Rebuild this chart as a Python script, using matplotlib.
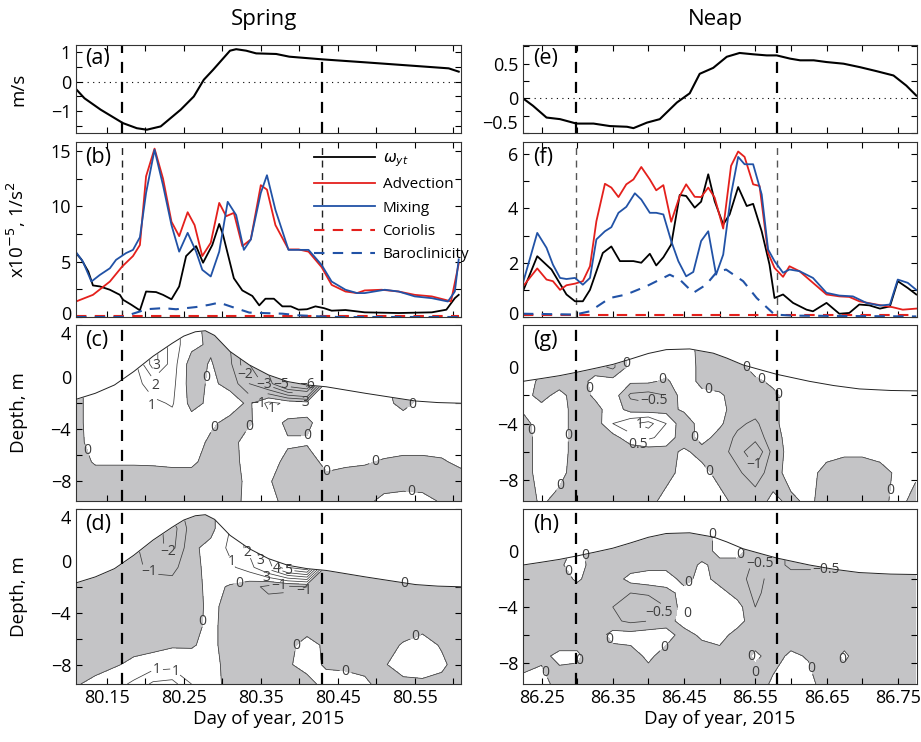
import numpy as np
import matplotlib
matplotlib.use('Agg')
import matplotlib.pyplot as plt
import matplotlib.transforms as mtrans
from matplotlib.ticker import MultipleLocator, FixedLocator

plt.rcParams['font.family'] = ['Open Sans', 'DejaVu Sans']
plt.rcParams['axes.unicode_minus'] = True
plt.rcParams['contour.negative_linestyle'] = 'solid'

RED = '#e4201c'
BLUE = '#2152a6'
GRAY = '#c4c4c6'

# ---------------- spring (left column) ----------------
sp_xlim = (80.11, 80.61)
sp_dash = [80.170, 80.429]

# (a) depth-averaged velocity
sp_vel_t = [80.111, 80.121, 80.142, 80.171, 80.189, 80.202, 80.220, 80.246, 80.263, 80.276, 80.288,
            80.310, 80.318, 80.331, 80.344, 80.370, 80.387, 80.430, 80.486, 80.551, 80.594, 80.607]
sp_vel = [-0.28, -0.56, -0.94, -1.39, -1.56, -1.61, -1.50, -0.94, -0.50, 0.06, 0.39,
          1.03, 1.08, 1.03, 0.94, 0.92, 0.83, 0.74, 0.64, 0.52, 0.44, 0.33]

# (b) vorticity balance terms
sp_wyt_t = [80.110, 80.117, 80.126, 80.132, 80.141, 80.154, 80.167, 80.171, 80.182, 80.193, 80.201,
            80.214, 80.223, 80.234, 80.244, 80.253, 80.266, 80.275, 80.287, 80.296, 80.301, 80.315,
            80.326, 80.339, 80.348, 80.356, 80.367, 80.378, 80.389, 80.399, 80.410, 80.421, 80.432,
            80.442, 80.460, 80.485, 80.529, 80.572, 80.591, 80.602, 80.607]
sp_wyt = [5.77, 5.2, 4.1, 2.85, 2.76, 2.46, 2.0, 1.56, 1.1, 0.6, 2.3,
          2.25, 2.0, 1.6, 2.76, 5.5, 6.4, 4.9, 6.5, 8.4, 7.4, 3.5,
          2.4, 1.9, 1.05, 1.65, 1.65, 0.96, 0.96, 0.66, 0.7, 0.96, 0.8,
          0.57, 0.63, 0.42, 0.36, 0.42, 0.66, 1.7, 2.0]
sp_adv_t = [80.110, 80.132, 80.154, 80.170, 80.184, 80.193, 80.201, 80.212, 80.223, 80.234, 80.244,
            80.255, 80.264, 80.274, 80.285, 80.296, 80.305, 80.315, 80.326, 80.337, 80.350, 80.358,
            80.369, 80.386, 80.399, 80.412, 80.429, 80.442, 80.460, 80.475, 80.485, 80.507, 80.529,
            80.550, 80.572, 80.589, 80.597, 80.607]
sp_adv = [1.4, 2.0, 3.2, 4.56, 5.5, 6.5, 12.7, 15.2, 12.5, 8.6, 7.3,
          9.46, 8.3, 5.5, 6.7, 10.3, 9.1, 9.4, 6.4, 7.0, 11.9, 11.5,
          8.3, 6.1, 6.1, 5.9, 4.5, 2.9, 2.3, 2.16, 2.4, 2.46, 2.3,
          2.0, 1.86, 1.56, 1.4, 4.8]
sp_mix_t = [80.110, 80.119, 80.130, 80.141, 80.154, 80.162, 80.175, 80.184, 80.193, 80.201, 80.212,
            80.223, 80.234, 80.244, 80.255, 80.266, 80.274, 80.285, 80.296, 80.307, 80.318, 80.328,
            80.337, 80.350, 80.358, 80.369, 80.386, 80.412, 80.429, 80.442, 80.460, 80.475, 80.485,
            80.511, 80.529, 80.550, 80.572, 80.593, 80.602, 80.607]
sp_mix = [5.86, 5.0, 3.2, 3.8, 4.4, 5.16, 5.77, 6.06, 7.2, 11.2, 15.1,
          11.9, 8.3, 5.9, 7.6, 5.9, 4.26, 3.66, 5.9, 10.4, 9.2, 6.06,
          7.0, 11.2, 12.8, 9.67, 6.06, 6.06, 4.7, 3.2, 2.46, 2.16, 2.16,
          2.46, 2.3, 1.86, 1.7, 1.4, 2.3, 5.2]
sp_cor_t = [80.110, 80.607]
sp_cor = [0.06, 0.06]
sp_bar_t = [80.110, 80.171, 80.184, 80.193, 80.201, 80.223, 80.240, 80.266, 80.283, 80.296,
            80.313, 80.335, 80.356, 80.378, 80.399, 80.429, 80.450, 80.607]
sp_bar = [0.0, 0.0, 0.3, 0.5, 0.7, 0.8, 0.7, 0.9, 1.1, 1.3,
          0.9, 0.4, 0.35, 0.3, 0.15, 0.05, 0.0, 0.0]

# free surface
sp_surf_t = [80.110, 80.135, 80.160, 80.185, 80.210, 80.235, 80.250, 80.265, 80.278, 80.290, 80.310,
             80.335, 80.360, 80.385, 80.410, 80.435, 80.486, 80.520, 80.551, 80.580, 80.610]
sp_surf = [-1.70, -1.24, -0.60, 0.43, 1.60, 2.60, 3.15, 3.48, 3.56, 3.20, 1.97,
           0.94, 0.17, -0.34, -0.60, -0.74, -1.24, -1.55, -1.83, -1.95, -2.00]

# (c),(d) depth-time sections: one list per time column, values from top to bottom
sp_grid_t = [80.11 + 0.025 * i for i in range(21)]
sp_grid_z = [4, 2.5, 1, -0.5, -2, -3.5, -5, -6.5, -8, -9.5]
sp_adv_cols = [
    [-0.3, -0.3, -0.3, -0.3, -0.3, -0.3, -0.3, -0.4, -0.5, -0.4],
    [0.5, 0.5, 0.5, 0.5, 0.5, 0.5, 0.4, 0.1, -0.5, -0.5],
    [0.5, 0.5, 0.5, 0.5, 0.5, 0.5, 0.4, 0.1, -0.5, -0.4],
    [0.6, 0.6, 0.6, 0.6, 0.5, 0.5, 0.4, 0.1, -0.5, -0.3],
    [3.5, 3.5, 3.5, 1.5, 0.8, 0.5, 0.4, 0.1, -0.4, -0.2],
    [1.5, 1.5, 1.5, 1.3, 1.1, 0.6, 0.5, 0.2, -0.5, -0.2],
    [0.3, 0.3, -0.5, -0.5, -0.3, 0.4, 0.5, 0.2, -0.5, -0.3],
    [-0.3, -0.2, 0.1, 0.2, 0.2, 0.2, -0.2, -0.4, -0.5, -0.3],
    [-1.0, -1.0, -0.8, -0.3, 0.5, -0.3, -0.4, -0.4, -0.5, -0.4],
    [-3.0, -3.0, -3.0, -2.0, -0.2, -0.1, 0.5, 0.4, 0.3, 0.3],
    [-4.5, -4.5, -4.5, -3.5, 1.3, 0.5, 0.4, 0.3, 0.1, 0.3],
    [-7.0, -7.0, -7.0, -6.0, 0.8, -0.2, 0.1, -0.2, -0.5, -0.3],
    [-7.0, -7.0, -7.0, -7.0, 0.5, -0.2, 0.1, -0.5, -0.5, -0.4],
    [0.5, 0.5, 0.5, 0.5, 0.5, 0.5, 0.5, 0.3, -0.3, -0.4],
    [0.5, 0.5, 0.5, 0.5, 0.5, 0.5, 0.5, 0.2, -0.5, -0.5],
    [0.5, 0.5, 0.5, 0.5, 0.5, 0.5, 0.5, 0.1, -0.5, -0.3],
    [0.5, 0.5, 0.5, 0.5, 0.3, 0.5, 0.5, -0.1, -0.5, 0.3],
    [0.5, 0.5, 0.5, -1.5, -0.3, 0.5, 0.4, -0.2, -0.4, 0.4],
    [0.5, 0.5, 0.5, 0.5, 0.3, 0.5, 0.4, -0.2, -0.4, 0.3],
    [0.5, 0.5, 0.5, 0.5, 0.5, 0.5, 0.4, -0.1, -0.4, -0.1],
    [0.5, 0.5, 0.5, 0.5, 0.5, 0.5, 0.5, 0.2, -0.4, -0.4],
]
sp_mix_cols = [
    [-0.5, -0.5, -0.5, -0.5, -0.5, -0.5, -0.5, -0.5, -0.4, -0.1],
    [-0.5, -0.5, -0.5, -0.5, -0.5, -0.5, -0.5, -0.5, -0.4, 0.3],
    [-0.5, -0.5, -0.5, -0.5, -0.5, -0.5, -0.5, -0.5, -0.1, 0.6],
    [-0.8, -0.8, -0.8, -0.8, -0.5, -0.5, -0.5, -0.3, 0.2, 1.2],
    [-1.5, -1.5, -1.6, -1.2, -0.6, -0.5, -0.5, -0.3, 0.5, 2.2],
    [-1.5, -2.5, -2.3, -1.3, -0.6, -0.5, -0.4, -0.1, 0.6, 2.4],
    [-0.5, -0.5, -0.2, -0.3, -0.4, -0.5, -0.4, -0.1, 0.5, 1.0],
    [-0.3, -0.3, 0.3, 0.3, 0.3, 0.3, 0.3, 0.3, 0.5, 0.5],
    [1.0, 1.0, 1.2, 0.8, -0.1, -0.4, -0.5, -0.5, -0.5, -0.4],
    [2.5, 2.5, 2.3, 1.5, -0.6, -0.5, -0.5, -0.5, -0.5, -0.5],
    [4.5, 4.5, 4.5, 3.5, -1.3, -0.5, -0.5, -0.5, -0.5, -0.5],
    [6.5, 6.5, 6.5, 6.0, -1.2, -0.5, -0.5, -0.3, -0.1, -0.5],
    [7.0, 7.0, 7.0, 7.0, -1.0, -0.5, -0.5, 0.4, 0.3, -0.3],
    [-0.5, -0.5, -0.5, -0.5, -0.5, -0.5, -0.5, -0.2, -0.1, 0.3],
    [-0.5, -0.5, -0.5, -0.5, -0.5, -0.5, -0.5, -0.5, -0.2, 0.4],
    [-0.5, -0.5, -0.5, -0.5, -0.5, -0.5, -0.5, -0.5, -0.3, 0.2],
    [-0.5, -0.5, -0.5, -0.5, -0.5, -0.5, -0.5, -0.4, -0.1, -0.4],
    [-0.5, -0.5, -0.5, 2.0, -0.3, -0.5, -0.5, 0.1, 0.5, -0.3],
    [-0.5, -0.5, -0.5, -0.5, -0.5, -0.5, -0.3, 0.4, 0.5, -0.2],
    [-0.5, -0.5, -0.5, -0.5, -0.5, -0.5, -0.5, -0.1, 0.2, -0.3],
    [-0.5, -0.5, -0.5, -0.5, -0.5, -0.5, -0.5, -0.5, -0.5, -0.5],
]

# where the contour labels sit (time, depth)
sp_adv_labels = [(80.214, 0.94), (80.211, 0.1), (80.214, -1.24), (80.278, -0.03), (80.333, 0.3),
                 (80.356, -0.2), (80.377, -0.5), (80.396, -0.6), (80.346, -1.3), (80.404, -1.3),
                 (80.365, -2.39), (80.552, -2.52), (80.294, -4.06), (80.338, -3.93), (80.41, -4.62),
                 (80.119, -5.72), (80.504, -7.52), (80.415, -8.42), (80.546, -8.8)]
sp_mix_labels = [(80.231, 0.82), (80.206, -0.72), (80.328, 0.4), (80.345, -0.1), (80.358, -0.4),
                 (80.371, -0.6), (80.386, -0.7), (80.304, -0.33), (80.322, -1.75), (80.374, -1.9),
                 (80.546, -2.26), (80.40, -3.92), (80.284, -4.69), (80.395, -6.49), (80.557, -6.74),
                 (80.215, -8.28), (80.236, -8.75), (80.46, -8.54)]

# ---------------- neap (right column) ----------------
np_xlim = (86.224, 86.777)
np_dash = [86.299, 86.580]

np_vel_t = [86.224, 86.238, 86.257, 86.276, 86.299, 86.323, 86.346, 86.370, 86.379, 86.398,
            86.416, 86.440, 86.458, 86.472, 86.491, 86.510, 86.528, 86.547, 86.566, 86.580,
            86.599, 86.613, 86.632, 86.650, 86.674, 86.697, 86.720, 86.744, 86.762, 86.776]
np_vel = [0.0, -0.107, -0.277, -0.30, -0.364, -0.364, -0.40, -0.41, -0.43, -0.35,
          -0.30, -0.06, 0.073, 0.354, 0.44, 0.60, 0.655, 0.636, 0.62, 0.62,
          0.573, 0.549, 0.549, 0.524, 0.50, 0.45, 0.393, 0.33, 0.184, 0.04]

np_wyt_t = [86.224, 86.244, 86.264, 86.285, 86.297, 86.308, 86.318, 86.336, 86.348, 86.360,
            86.379, 86.390, 86.402, 86.411, 86.421, 86.432, 86.444, 86.453, 86.465, 86.474,
            86.484, 86.493, 86.505, 86.514, 86.526, 86.538, 86.547, 86.559, 86.570, 86.577,
            86.589, 86.603, 86.622, 86.631, 86.650, 86.668, 86.682, 86.696, 86.710, 86.725,
            86.739, 86.750, 86.764, 86.776]
np_wyt = [0.95, 2.24, 1.75, 0.83, 0.58, 0.58, 1.0, 2.36, 2.6, 2.06,
          2.06, 2.0, 2.33, 1.9, 2.2, 2.67, 4.5, 4.46, 4.03, 4.25,
          5.26, 4.27, 3.41, 3.78, 4.79, 4.09, 4.17, 3.16, 1.93, 0.70,
          0.83, 0.52, 0.27, 0.21, 0.52, 0.12, 0.15, 0.46, 0.43, 0.31,
          0.39, 1.32, 1.07, 0.83]
np_adv_t = [86.224, 86.244, 86.257, 86.266, 86.276, 86.285, 86.297, 86.308, 86.318, 86.327,
            86.339, 86.348, 86.358, 86.369, 86.379, 86.390, 86.402, 86.411, 86.421, 86.432,
            86.444, 86.453, 86.465, 86.474, 86.484, 86.493, 86.505, 86.516, 86.526, 86.535,
            86.547, 86.556, 86.568, 86.577, 86.589, 86.598, 86.612, 86.631, 86.650, 86.668,
            86.682, 86.696, 86.720, 86.743, 86.757, 86.776]
np_adv = [1.13, 1.79, 1.38, 1.32, 1.0, 1.17, 1.23, 1.32, 1.87, 3.53,
          4.91, 4.77, 4.42, 4.89, 5.07, 5.53, 5.07, 4.67, 4.86, 3.51,
          4.46, 4.89, 4.43, 4.42, 4.77, 4.40, 3.26, 5.57, 6.1, 5.9,
          4.89, 4.83, 2.36, 1.81, 1.48, 1.87, 1.69, 1.26, 0.83, 0.76,
          0.74, 0.58, 0.46, 0.36, 0.27, 0.31]
np_mix_t = [86.224, 86.244, 86.257, 86.266, 86.276, 86.285, 86.297, 86.308, 86.318, 86.327,
            86.339, 86.348, 86.358, 86.369, 86.381, 86.390, 86.402, 86.411, 86.421, 86.432,
            86.442, 86.453, 86.463, 86.474, 86.484, 86.495, 86.505, 86.516, 86.526, 86.535,
            86.547, 86.559, 86.568, 86.577, 86.589, 86.598, 86.612, 86.631, 86.650, 86.668,
            86.687, 86.706, 86.725, 86.739, 86.750, 86.764, 86.776]
np_mix = [1.26, 3.1, 2.55, 1.93, 1.44, 1.4, 1.44, 1.19, 1.44, 2.86,
          3.16, 3.31, 3.84, 4.06, 4.56, 4.33, 3.84, 3.84, 3.78, 2.80,
          2.06, 1.5, 1.66, 2.8, 3.16, 1.56, 2.3, 4.52, 5.9, 5.63,
          5.63, 4.52, 2.49, 2.06, 1.63, 1.75, 1.69, 1.44, 0.89, 0.79,
          0.76, 0.52, 0.42, 0.46, 1.38, 1.26, 1.0]
np_cor_t = [86.224, 86.776]
np_cor = [0.06, 0.06]
np_bar_t = [86.224, 86.252, 86.297, 86.318, 86.346, 86.369, 86.397, 86.430, 86.444,
            86.463, 86.481, 86.495, 86.509, 86.533, 86.552, 86.577, 86.603, 86.776]
np_bar = [0.12, 0.11, 0.09, 0.21, 0.7, 0.83, 1.13, 1.56, 1.38,
          0.89, 1.19, 1.63, 1.75, 1.32, 0.7, 0.09, 0.05, 0.02]

np_surf_t = [86.224, 86.250, 86.275, 86.300, 86.325, 86.350, 86.375, 86.400, 86.425, 86.458,
             86.491, 86.510, 86.533, 86.555, 86.580, 86.626, 86.660, 86.696, 86.740, 86.777]
np_surf = [-1.00, -0.80, -0.60, -0.35, -0.08, 0.20, 0.58, 0.98, 1.25, 1.30,
           1.00, 0.65, 0.16, -0.15, -0.50, -1.00, -1.30, -1.54, -1.65, -1.68]

np_grid_t = [86.225 + 0.025 * i for i in range(23)]
np_grid_z = [3, 1.5, 0, -1, -2, -3, -4, -5, -6, -7.5, -9.5]
np_adv_cols = [
    [0.2, 0.2, 0.2, 0.2, 0.2, 0.1, -0.2, -0.3, -0.3, -0.3, -0.3],
    [0.2, 0.2, 0.1, -0.1, -0.2, 0.2, 0.3, 0.3, 0.3, 0.3, 0.1],
    [-0.2, -0.2, -0.2, -0.3, 0.2, 0.3, 0.3, 0.3, 0.3, 0.2, -0.2],
    [-0.2, -0.2, -0.3, -0.3, -0.3, -0.3, -0.3, -0.3, -0.3, -0.3, -0.3],
    [-0.3, -0.3, -0.3, 0.2, 0.1, -0.2, -0.3, -0.3, -0.3, -0.3, -0.3],
    [-0.6, -0.6, -0.6, 0.2, 0.3, 0.3, 0.5, -0.2, -0.3, -0.3, -0.3],
    [0.2, 0.2, 0.2, 0.1, -0.6, -0.2, 0.9, 0.3, -0.3, -0.3, -0.3],
    [0.2, 0.2, 0.3, 0.1, -0.7, -0.3, 1.2, 0.6, -0.3, -0.3, -0.2],
    [0.3, 0.3, 0.3, -0.1, -0.5, -0.2, 0.5, 0.3, -0.2, -0.2, 0.2],
    [0.3, 0.3, 0.4, 0.4, 0.3, 0.1, -0.4, -0.3, 0.1, 0.2, 0.2],
    [-0.2, -0.2, -0.2, -0.2, 0.2, 0.3, 0.3, 0.2, -0.2, 0.2, 0.2],
    [-0.3, -0.3, -0.3, -0.3, 0.1, 0.2, 0.1, -0.2, -0.3, -0.2, 0.2],
    [-0.3, -0.3, -0.2, -0.3, -0.3, -0.3, -0.4, -0.6, -0.7, -0.4, -0.2],
    [0.2, 0.2, 0.2, -0.1, -0.2, -0.3, -0.6, -0.8, -1.5, -0.8, -0.2],
    [0.2, 0.2, 0.2, 0.1, -0.1, -0.1, -0.1, -0.2, -0.3, -0.2, 0.1],
    [0.2, 0.2, 0.2, 0.2, 0.2, 0.2, 0.2, 0.2, 0.2, 0.2, -0.1],
    [0.2, 0.2, 0.2, 0.2, 0.2, 0.2, 0.2, 0.2, 0.2, 0.2, 0.1],
    [0.2, 0.2, 0.2, 0.2, 0.2, 0.2, 0.2, 0.2, 0.2, -0.2, -0.2],
    [0.2, 0.2, 0.2, 0.2, 0.2, 0.2, 0.2, 0.2, 0.1, -0.3, -0.3],
    [0.2, 0.2, 0.2, 0.2, 0.2, 0.2, 0.2, 0.2, 0.1, -0.3, -0.3],
    [0.2, 0.2, 0.2, 0.2, 0.2, 0.2, 0.2, 0.2, 0.2, -0.2, -0.2],
    [0.2, 0.2, 0.2, 0.2, 0.2, 0.2, 0.2, 0.2, 0.2, 0.1, 0.2],
    [0.2, 0.2, 0.2, 0.2, 0.2, 0.2, 0.2, 0.2, 0.2, 0.1, -0.2],
]
np_mix_cols = [
    [-0.3, -0.3, -0.3, -0.3, -0.3, -0.3, -0.3, -0.3, -0.3, -0.3, 0.2],
    [-0.3, -0.3, -0.3, -0.3, -0.3, -0.3, -0.3, -0.3, -0.3, -0.1, 0.2],
    [-0.3, -0.3, -0.3, -0.1, -0.3, -0.3, -0.3, -0.3, -0.3, 0.1, -0.2],
    [0.2, 0.2, 0.2, 0.3, 0.1, -0.3, -0.3, -0.3, -0.3, 0.1, -0.3],
    [-0.3, -0.3, -0.3, -0.3, -0.3, -0.3, -0.3, -0.3, -0.3, -0.3, -0.3],
    [-0.3, -0.3, -0.3, -0.3, -0.3, -0.4, -0.5, -0.4, 0.2, -0.3, -0.3],
    [-0.3, -0.3, -0.3, -0.3, 0.2, -0.5, -0.9, -0.6, 0.2, -0.2, -0.3],
    [-0.3, -0.3, -0.3, -0.2, 0.3, -0.4, -1.0, -0.5, 0.3, 0.1, -0.3],
    [-0.3, -0.3, -0.3, -0.2, 0.3, -0.2, -0.5, -0.2, 0.2, -0.2, -0.3],
    [-0.3, -0.3, -0.3, -0.3, -0.2, 0.2, 0.3, 0.2, -0.2, -0.3, -0.3],
    [-0.3, -0.3, -0.3, 0.1, 0.2, 0.3, 0.3, 0.3, 0.1, -0.3, -0.3],
    [0.2, 0.2, 0.2, -0.2, -0.2, 0.2, 0.3, 0.3, 0.2, -0.2, -0.3],
    [0.2, 0.2, 0.2, -0.2, -0.3, -0.2, 0.2, 0.2, -0.2, -0.3, -0.3],
    [-0.3, -0.3, -0.3, -0.6, -0.7, -0.6, -0.5, -0.3, -0.3, 0.1, -0.3],
    [-0.3, -0.3, -0.3, -0.3, -0.3, -0.3, -0.3, -0.3, -0.3, -0.2, 0.1],
    [-0.6, -0.6, -0.6, -0.6, -0.3, -0.3, -0.3, -0.3, -0.3, 0.1, 0.3],
    [-0.6, -0.6, -0.6, -0.6, -0.3, -0.3, -0.3, -0.3, -0.3, -0.05, 0.2],
    [-0.6, -0.6, -0.6, -0.6, -0.3, -0.3, -0.3, -0.3, -0.3, -0.3, -0.3],
    [-0.6, -0.6, -0.6, -0.6, -0.3, -0.3, -0.3, -0.3, -0.3, 0.1, -0.3],
    [-0.3, -0.3, -0.3, -0.3, -0.3, -0.3, -0.3, -0.3, -0.3, -0.3, -0.3],
    [-0.3, -0.3, -0.3, -0.3, -0.3, -0.3, -0.3, -0.3, -0.3, -0.3, -0.3],
    [-0.3, -0.3, -0.3, -0.3, -0.3, -0.3, -0.3, -0.3, -0.3, -0.3, -0.3],
    [-0.3, -0.3, -0.3, -0.3, -0.3, -0.3, -0.3, -0.3, -0.3, -0.3, -0.3],
]

np_adv_labels = [(86.365, 0.28), (86.42, -0.83), (86.317, -1.54), (86.407, -2.32), (86.484, -1.68),
                 (86.513, -0.36), (86.549, -1.77), (86.605, -1.02), (86.386, -4.33), (86.383, -5.16),
                 (86.227, -4.56), (86.265, -4.85), (86.46, -5.16), (86.542, -7.16), (86.264, -8.11),
                 (86.468, -8.11), (86.706, -8.58)]
np_mix_labels = [(86.306, -0.34), (86.284, -1.58), (86.468, 1.17), (86.523, 0.07), (86.554, -1.06),
                 (86.65, -1.18), (86.463, -2.66), (86.411, -4.17), (86.448, -4.53), (86.337, -6.64),
                 (86.415, -6.45), (86.528, -7.46), (86.311, -8.08), (86.262, -8.49), (86.554, -8.61),
                 (86.629, -8.37), (86.669, -7.84)]


def fmt_minus(v):
    return ('%g' % v).replace('-', '\u2212')


def nudge(label, dy_px):
    label.set_transform(label.get_transform() +
                        mtrans.ScaledTranslation(0, dy_px / 100.0, fig.dpi_scale_trans))


def style_axis(ax, xlim, major_x, show_xlabels):
    ax.set_xlim(*xlim)
    ax.xaxis.set_major_locator(FixedLocator(major_x))
    ax.xaxis.set_minor_locator(FixedLocator([m + 0.05 for m in major_x] + [major_x[0] - 0.05]))
    ax.tick_params(which='both', direction='in', top=True, right=True, length=4, width=0.8,
                   labelsize=13)
    if not show_xlabels:
        ax.set_xticklabels([])
    for s in ax.spines.values():
        s.set_linewidth(0.8)
        s.set_color('#333333')


def set_yticks(ax, ticks, minor):
    ax.set_yticks(ticks, labels=[fmt_minus(t) for t in ticks])
    ax.yaxis.set_minor_locator(MultipleLocator(minor))


def panel_label(ax, s):
    ax.text(0.025, 0.97, s, transform=ax.transAxes, va='top', ha='left', fontsize=15.5, zorder=10)


def depth_panel(ax, grid_t, grid_z, cols, levels, surf_t, surf_z, ylim, xlim, label_pos):
    Z = np.array(cols).T
    T, D = np.meshgrid(grid_t, grid_z)
    ax.set_xlim(*xlim)
    ax.set_ylim(*ylim)
    ax.contourf(T, D, Z, levels=[Z.min() - 1, 0], colors=[GRAY], zorder=1)
    cs = ax.contour(T, D, Z, levels=levels, colors='#3c3c3c', linewidths=0.55,
                    linestyles='solid', zorder=1.2)
    texts = ax.clabel(cs, fmt=fmt_minus, fontsize=10, inline=True, inline_spacing=2,
                      manual=label_pos)
    for tx in texts:
        tx.set_rotation(0)
        tx.set_zorder(2.5)
        tx.set_clip_on(True)
    ax.fill_between(surf_t, surf_z, ylim[1] + 2, color='white', lw=0, zorder=2)
    ax.plot(surf_t, surf_z, color='#222222', lw=0.7, zorder=3)
    ax.set_ylim(*ylim)
    return list(texts)


def spread_labels(ax, texts, renderer):
    # shift contour labels that would sit on top of each other
    placed = []
    offsets = [(0, 9), (0, -9), (11, 0), (-11, 0), (11, 9), (-11, -9), (11, -9), (-11, 9),
               (0, 16), (0, -16), (20, 0), (-20, 0)]
    for tx in texts:
        bb = tx.get_window_extent(renderer)
        if any(bb.overlaps(p) for p in placed):
            px, py = ax.transData.transform(tx.get_position())
            for dx, dy in offsets:
                tx.set_position(ax.transData.inverted().transform((px + dx, py + dy)))
                bb = tx.get_window_extent(renderer)
                if not any(bb.overlaps(p) for p in placed):
                    break
        placed.append(bb)


fig = plt.figure(figsize=(9.21, 7.42), dpi=100)
W, H = 921.0, 742.0
col_x = [(76, 461), (523, 917)]
row_y = [(45, 133), (142, 317), (325, 501), (509, 684)]


def make_ax(c, r):
    x0, x1 = col_x[c]
    y0, y1 = row_y[r]
    return fig.add_axes([x0 / W, 1 - y1 / H, (x1 - x0) / W, (y1 - y0) / H])


cols_cfg = [
    dict(xlim=sp_xlim, major=[80.15, 80.25, 80.35, 80.45, 80.55], dash=sp_dash,
         vel_t=sp_vel_t, vel=sp_vel, vel_ylim=(-1.72, 1.22), vel_ticks=[-1, 0, 1], vel_minor=0.5,
         wyt=(sp_wyt_t, sp_wyt), adv=(sp_adv_t, sp_adv), mix=(sp_mix_t, sp_mix),
         cor=(sp_cor_t, sp_cor), bar=(sp_bar_t, sp_bar),
         vort_ylim=(0, 15.8), vort_ticks=[0, 5, 10, 15], vort_minor=2.5,
         surf=(sp_surf_t, sp_surf), grid=(sp_grid_t, sp_grid_z),
         fields=(sp_adv_cols, sp_mix_cols), labs=(sp_adv_labels, sp_mix_labels),
         levels=list(range(-7, 8)),
         depth_ylim=(-9.5, 4.0), depth_ticks=[-8, -4, 0, 4],
         labels=['(a)', '(b)', '(c)', '(d)'], title='Spring', bdash_color='#222222'),
    dict(xlim=np_xlim, major=[86.25, 86.35, 86.45, 86.55, 86.65, 86.75], dash=np_dash,
         vel_t=np_vel_t, vel=np_vel, vel_ylim=(-0.5, 0.77), vel_ticks=[-0.5, 0, 0.5], vel_minor=0.25,
         wyt=(np_wyt_t, np_wyt), adv=(np_adv_t, np_adv), mix=(np_mix_t, np_mix),
         cor=(np_cor_t, np_cor), bar=(np_bar_t, np_bar),
         vort_ylim=(0, 6.45), vort_ticks=[0, 2, 4, 6], vort_minor=1,
         surf=(np_surf_t, np_surf), grid=(np_grid_t, np_grid_z),
         fields=(np_adv_cols, np_mix_cols), labs=(np_adv_labels, np_mix_labels),
         levels=[-2, -1.5, -1, -0.5, 0, 0.5, 1, 1.5],
         depth_ylim=(-9.5, 3.0), depth_ticks=[-8, -4, 0],
         labels=['(e)', '(f)', '(g)', '(h)'], title='Neap', bdash_color='#555555'),
]

label_sets = []
for c, cfg in enumerate(cols_cfg):
    # velocity
    ax = make_ax(c, 0)
    ax.plot(cfg['vel_t'], cfg['vel'], color='k', lw=1.5)
    ax.axhline(0, color='k', lw=0.8, ls=(0, (1, 4)))
    for d in cfg['dash']:
        ax.axvline(d, color='k', lw=1.6, ls=(0, (5, 4)))
    ax.set_ylim(*cfg['vel_ylim'])
    set_yticks(ax, cfg['vel_ticks'], cfg['vel_minor'])
    style_axis(ax, cfg['xlim'], cfg['major'], False)
    if c == 1:
        ax.yaxis.get_major_ticks()[0].label1.set_verticalalignment('bottom')
    panel_label(ax, cfg['labels'][0])
    if c == 0:
        ax.set_ylabel('m/s', fontsize=13.5)
        ax.yaxis.set_label_coords(-0.125, 0.5)
    x0, x1 = col_x[c]
    fig.text((x0 + x1) / 2 / W - 0.005, 1 - 19 / H, cfg['title'], ha='center', va='center', fontsize=16)

    # vorticity terms
    ax = make_ax(c, 1)
    ax.plot(*cfg['wyt'], color='k', lw=1.3, label=r'$\omega_{yt}$')
    ax.plot(*cfg['adv'], color=RED, lw=1.3, label='Advection')
    ax.plot(*cfg['mix'], color=BLUE, lw=1.3, label='Mixing')
    ax.plot(*cfg['cor'], color=RED, lw=1.5, ls=(0, (5, 4)), label='Coriolis')
    ax.plot(*cfg['bar'], color=BLUE, lw=1.5, ls=(0, (5, 4)), label='Baroclinicity')
    for d in cfg['dash']:
        ax.axvline(d, color=cfg['bdash_color'], lw=1.0, ls=(0, (5, 4)), zorder=0.5)
    ax.set_ylim(*cfg['vort_ylim'])
    set_yticks(ax, cfg['vort_ticks'], cfg['vort_minor'])
    style_axis(ax, cfg['xlim'], cfg['major'], False)
    nudge(ax.yaxis.get_major_ticks()[0].label1, 4)
    panel_label(ax, cfg['labels'][1])
    if c == 0:
        ax.set_ylabel(r'x10$^{-5}$, 1/s$^{2}$', fontsize=13.5)
        ax.yaxis.set_label_coords(-0.125, 0.5)
        ax.legend(loc='upper right', bbox_to_anchor=(1.045, 1.0), frameon=False, fontsize=11,
                  handlelength=4.0, labelspacing=0.55, handletextpad=0.5, borderaxespad=0.2)

    # depth sections
    for k in range(2):
        ax = make_ax(c, 2 + k)
        texts = depth_panel(ax, cfg['grid'][0], cfg['grid'][1], cfg['fields'][k], cfg['levels'],
                            cfg['surf'][0], cfg['surf'][1], cfg['depth_ylim'], cfg['xlim'],
                            cfg['labs'][k])
        label_sets.append((ax, texts))
        for d in cfg['dash']:
            ax.axvline(d, color='k', lw=1.6, ls=(0, (5, 4)), zorder=4)
        set_yticks(ax, cfg['depth_ticks'], 2)
        style_axis(ax, cfg['xlim'], cfg['major'], k == 1)
        if c == 0:
            top_lab = ax.yaxis.get_major_ticks()[-1].label1
            top_lab.set_verticalalignment('top')
            nudge(top_lab, -1)
        panel_label(ax, cfg['labels'][2 + k])
        if c == 0:
            ax.set_ylabel('Depth, m', fontsize=13.5)
            ax.yaxis.set_label_coords(-0.125, 0.5)
        if k == 1:
            ax.set_xlabel('Day of year, 2015', fontsize=13.5, labelpad=2)

renderer = fig.canvas.get_renderer()
for ax, texts in label_sets:
    spread_labels(ax, texts, renderer)

fig.savefig('out.png', dpi=100)
